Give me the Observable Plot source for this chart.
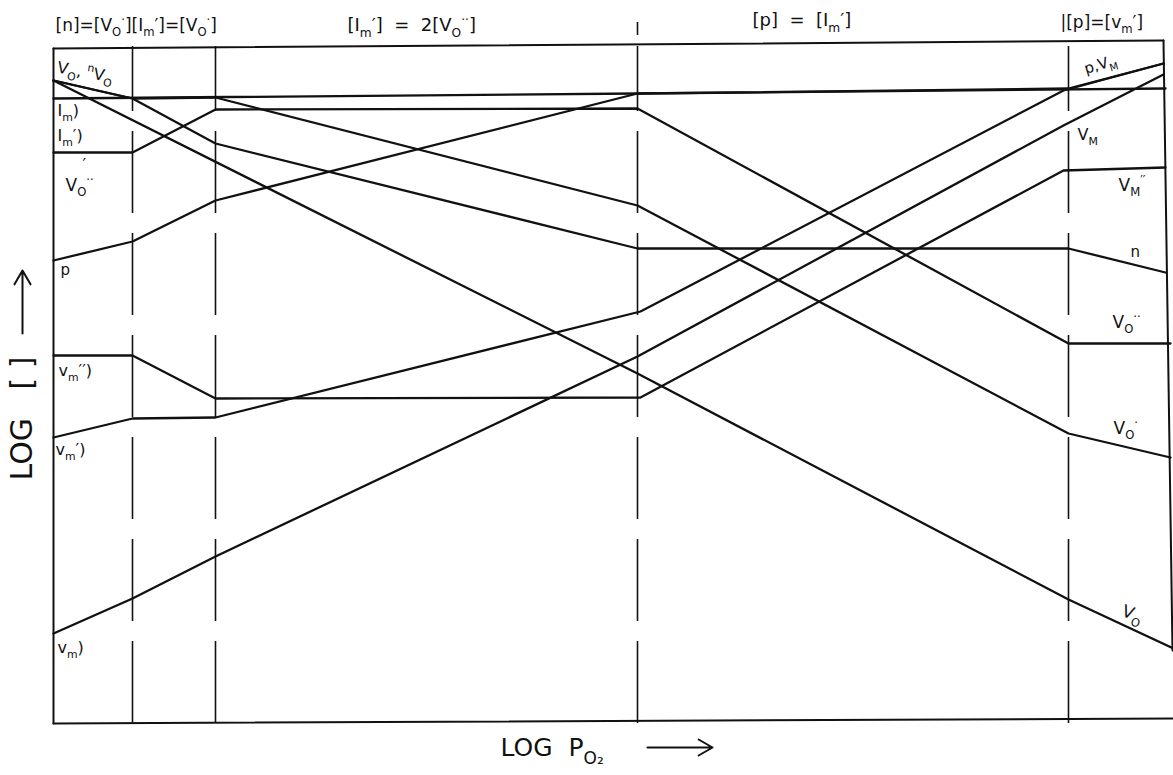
<!DOCTYPE html>
<html>
<head>
<meta charset="utf-8">
<script src="https://cdn.jsdelivr.net/npm/d3@7"></script>
<script src="https://cdn.jsdelivr.net/npm/@observablehq/plot@0.6"></script>
<style>
  html, body { margin: 0; padding: 0; background: #fff; }
  #chart svg { display: block; }
</style>
</head>
<body>
<div id="chart"></div>
<script>
// Brouwer diagram: log concentration of defects vs. log oxygen partial pressure.
// Each species is a piecewise-linear polyline of [log pO2, log concentration].
const nLine   = [[0, 64.3], [7.9, 62.5], [16.2, 58.0], [58.4, 47.5], [101.5, 47.5], [111.2, 45.1]];
const vO      = [[0, 64.3], [58.4, 35.0], [101.5, 12.4], [112, 7.5]];
const vOdot   = [[0, 64.3], [7.9, 62.5], [16.2, 62.6], [58.4, 51.8], [101.5, 29.0], [111.7, 26.6]];
const vO2dot  = [[0, 57.1], [7.9, 57.1], [16.2, 61.4], [58.4, 61.5], [101.5, 38.0], [111.7, 38.0]];
const pLine   = [[0, 46.3], [7.9, 48.2], [16.2, 52.3], [58.4, 63.0], [101.5, 63.5], [111, 66.0]];
const imPrime = [[0, 62.5], [58.4, 63.0], [111.2, 63.5]];
const vm1     = [[0, 28.6], [7.9, 30.5], [16.2, 30.6], [58.7, 41.2], [101, 63.3], [111, 66.0]];
const vm0     = [[0, 9.0], [7.9, 12.5], [16.2, 16.7], [58.4, 36.7], [101, 59.8], [111, 64.9]];
const vm2     = [[0, 36.8], [7.9, 36.8], [16.2, 32.5], [58.7, 32.6], [101, 55.3], [111.2, 55.6]];

// Frame of the diagram and the region boundaries
const headerTop = [[0, 67.5], [111, 68.3]];
const baseLine  = [[0, 0], [112, 0.5]];
const leftEdge  = [[0, 0], [0, 67.5]];
const rightEdge = [[111, 68.3], [111.9, 7.3]];
const regionBreaks = [7.9, 16.2, 58.4, 101.5];
const headerTicks = [58.4];

// Region headings (electroneutrality condition in each region)
const headings = [
  {x: 0.2,   y: 69.8, t: "[n]=[V_{O}^{·}][I_{m}′]=[V_{O}^{·}]", s: 17},
  {x: 29.4,  y: 69.8, t: "[I_{m}′]  =  2[V_{O}^{··}]", s: 18},
  {x: 69.9,  y: 70.3, t: "[p]  =  [I_{m}′]", s: 18},
  {x: 100.7, y: 70.1, t: "|[p]=[v_{m}′]", s: 17}
];

// Species labels
const labels = [
  {x: 0.4,   y: 65.6, t: "V_{O}, ^{n}V_{O}", s: 16, r: 10},
  {x: 0.4,   y: 61.3, t: "I_{m})", s: 16, r: 0},
  {x: 0.4,   y: 58.8, t: "I_{m}′)", s: 16, r: 0},
  {x: 2.9,   y: 55.9, t: "′", s: 16, r: 0},
  {x: 1.2,   y: 53.8, t: "V_{O}^{··}", s: 17, r: 0},
  {x: 0.7,   y: 45.3, t: "p", s: 15, r: 0},
  {x: 0.5,   y: 35.3, t: "v_{m}′′)", s: 16, r: 0},
  {x: 0.2,   y: 27.4, t: "v_{m}′)", s: 16, r: 0},
  {x: 0.4,   y: 7.6,  t: "v_{m})", s: 16, r: 0},
  {x: 103.1, y: 65.4, t: "p,V_{M}", s: 15, r: -17},
  {x: 102.4, y: 58.9, t: "V_{M}", s: 16, r: 0},
  {x: 106.5, y: 53.8, t: "V_{M}^{′′}", s: 17, r: 0},
  {x: 107.7, y: 47.1, t: "n", s: 15, r: 0},
  {x: 105.9, y: 40.1, t: "V_{O}^{··}", s: 17, r: 0},
  {x: 106.0, y: 29.5, t: "V_{O}^{·}", s: 17, r: 0},
  {x: 106.9, y: 11.3, t: "V_{O}", s: 17, r: 20}
];

const species = [
  ["n", nLine], ["VO", vO], ["VO·", vOdot], ["VO··", vO2dot], ["p", pLine],
  ["Im′", imPrime], ["vm′", vm1], ["vm", vm0], ["vm′′", vm2]
];
const frame = [["top", headerTop], ["base", baseLine], ["left", leftEdge], ["right", rightEdge]];

const toRows = list => list.flatMap(([name, pts]) => pts.map(([x, y]) => ({name, x, y})));
const speciesRows = toRows(species);
const frameRows = toRows(frame);

const font = "DejaVu Sans, Liberation Sans, sans-serif";

const chart = Plot.plot({
  width: 1173,
  height: 775,
  margin: 0,
  x: {domain: [-5.3, 112], range: [0, 1173], axis: null},
  y: {domain: [-5.2, 72.3], range: [775, 0], axis: null},
  style: {background: "#fff", fontFamily: font},
  marks: [
    Plot.ruleX(regionBreaks, {y1: 0, y2: 67.7, stroke: "#111", strokeWidth: 1.6, strokeDasharray: "82,20"}),
    Plot.ruleX(headerTicks, {y1: 68.8, y2: 70.1, stroke: "#111", strokeWidth: 1.6}),
    Plot.line(frameRows, {x: "x", y: "y", z: "name", stroke: "#111", strokeWidth: 2}),
    Plot.line(speciesRows, {x: "x", y: "y", z: "name", stroke: "#111", strokeWidth: 2.3, strokeLinejoin: "round"}),
    Plot.text(headings, {x: "x", y: "y", text: "t", fontSize: "s", textAnchor: "start", fill: "#111", fontFamily: font}),
    Plot.text(labels, {x: "x", y: "y", text: "t", fontSize: "s", rotate: "r", textAnchor: "start", fill: "#111", fontFamily: font}),
    // axis titles
    Plot.text(["LOG  P_{O₂}"], {x: 44.7, y: -2.4, textAnchor: "start", fontSize: 25, fill: "#111", fontFamily: font}),
    Plot.arrow([0], {x1: 59.4, y1: -2.4, x2: 65.9, y2: -2.4, stroke: "#111", strokeWidth: 2, headLength: 12}),
    Plot.text(["LOG   [ ]"], {x: -3.1, y: 24.3, rotate: -90, textAnchor: "start", fontSize: 30, fill: "#111", fontFamily: font}),
    Plot.arrow([0], {x1: -3.1, y1: 39.0, x2: -3.1, y2: 45.3, stroke: "#111", strokeWidth: 2, headLength: 12})
  ]
});

document.getElementById("chart").append(chart);

// Turn _{...} and ^{...} markup into subscript / superscript tspans.
const SVGNS = "http://www.w3.org/2000/svg";
function richify(el) {
  const s = el.textContent;
  if (!/[_^]\{/.test(s)) return;
  const fs = parseFloat(getComputedStyle(el).fontSize) || 16;
  el.textContent = "";
  const re = /([_^])\{([^}]*)\}|([^_^]+|[_^])/g;
  let shift = 0, m;
  while ((m = re.exec(s))) {
    const t = document.createElementNS(SVGNS, "tspan");
    let target = 0;
    if (m[1]) {
      t.textContent = m[2];
      t.setAttribute("font-size", (fs * 0.68).toFixed(1));
      target = m[1] === "_" ? 0.32 * fs : -0.42 * fs;
    } else {
      t.textContent = m[3];
    }
    const d = target - shift;
    if (d !== 0) t.setAttribute("dy", d.toFixed(2));
    shift = target;
    el.appendChild(t);
  }
}
chart.querySelectorAll("text").forEach(richify);
</script>
</body>
</html>
